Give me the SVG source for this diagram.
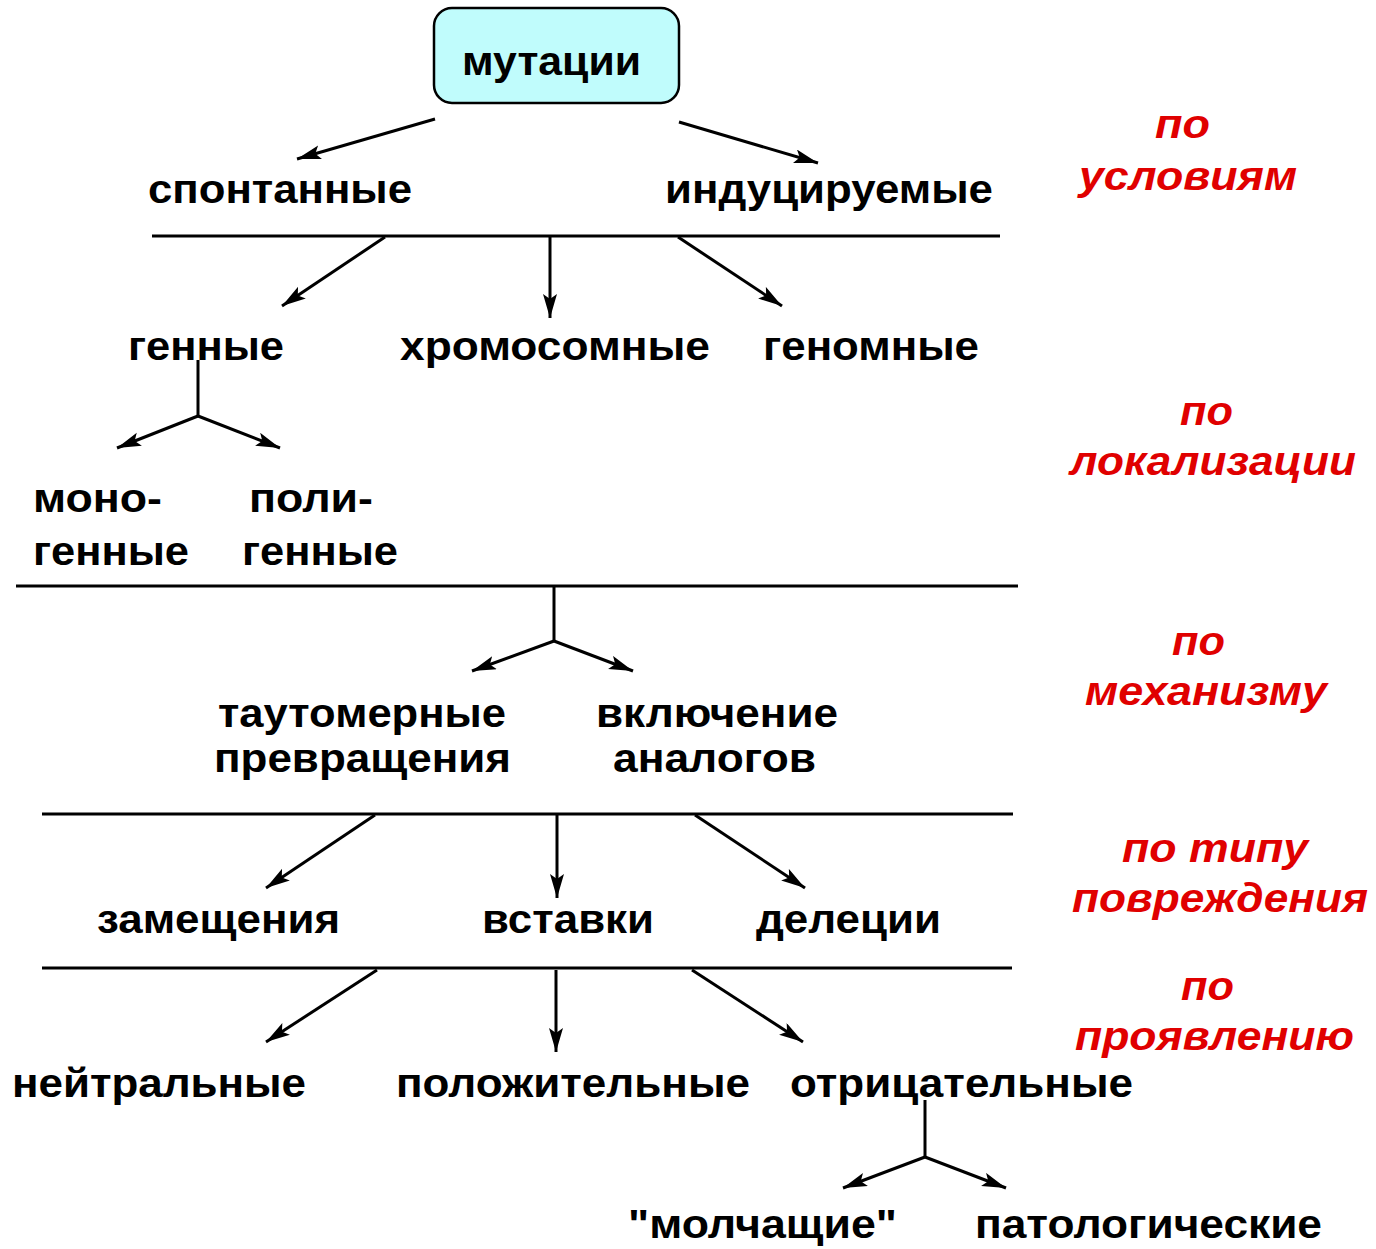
<svg xmlns="http://www.w3.org/2000/svg" width="1376" height="1249" viewBox="0 0 1376 1249">
<style>
.t{font-family:"Liberation Sans",Arial,sans-serif;font-weight:bold;font-size:41px;fill:#000}
.r{font-family:"Liberation Sans",Arial,sans-serif;font-weight:bold;font-style:italic;font-size:41px;fill:#e00000}
.c line,.c polyline{stroke:#000;stroke-width:3;fill:none}
.a{marker-end:url(#ah)}
</style>
<defs>
<marker id="ah" markerUnits="userSpaceOnUse" markerWidth="26" markerHeight="16" refX="24" refY="7" orient="auto">
<path d="M0,0 L24,7 L0,14 L5,7 Z" fill="#000"/>
</marker>
</defs>
<rect width="1376" height="1249" fill="#fff"/>
<g id="root">
<rect x="434" y="8" width="245" height="95" rx="18" fill="#c0fcfc" stroke="#000" stroke-width="2.5"/>
<text class="t" x="462" y="75" textLength="179" lengthAdjust="spacingAndGlyphs">мутации</text>
</g>
<g id="n-spont"><text class="t" x="148" y="203" textLength="264" lengthAdjust="spacingAndGlyphs">спонтанные</text></g>
<g id="n-indu"><text class="t" x="665" y="203" textLength="328" lengthAdjust="spacingAndGlyphs">индуцируемые</text></g>
<g id="n-gen"><text class="t" x="128" y="360" textLength="156" lengthAdjust="spacingAndGlyphs">генные</text></g>
<g id="n-chrom"><text class="t" x="400" y="360" textLength="310" lengthAdjust="spacingAndGlyphs">хромосомные</text></g>
<g id="n-genom"><text class="t" x="763" y="360" textLength="216" lengthAdjust="spacingAndGlyphs">геномные</text></g>
<g id="n-mono">
<text class="t" x="33" y="512" textLength="129" lengthAdjust="spacingAndGlyphs">моно-</text>
<text class="t" x="33" y="565" textLength="156" lengthAdjust="spacingAndGlyphs">генные</text>
</g>
<g id="n-poly">
<text class="t" x="249" y="512" textLength="124" lengthAdjust="spacingAndGlyphs">поли-</text>
<text class="t" x="242" y="565" textLength="156" lengthAdjust="spacingAndGlyphs">генные</text>
</g>
<g id="n-taut">
<text class="t" x="218" y="727" textLength="288" lengthAdjust="spacingAndGlyphs">таутомерные</text>
<text class="t" x="214" y="772" textLength="297" lengthAdjust="spacingAndGlyphs">превращения</text>
</g>
<g id="n-vkl">
<text class="t" x="596" y="727" textLength="242" lengthAdjust="spacingAndGlyphs">включение</text>
<text class="t" x="613" y="772" textLength="203" lengthAdjust="spacingAndGlyphs">аналогов</text>
</g>
<g id="n-zam"><text class="t" x="97" y="933" textLength="243" lengthAdjust="spacingAndGlyphs">замещения</text></g>
<g id="n-vst"><text class="t" x="482" y="933" textLength="172" lengthAdjust="spacingAndGlyphs">вставки</text></g>
<g id="n-del"><text class="t" x="756" y="933" textLength="185" lengthAdjust="spacingAndGlyphs">делеции</text></g>
<g id="n-neut"><text class="t" x="12" y="1097" textLength="294" lengthAdjust="spacingAndGlyphs">нейтральные</text></g>
<g id="n-pos"><text class="t" x="396" y="1097" textLength="354" lengthAdjust="spacingAndGlyphs">положительные</text></g>
<g id="n-neg"><text class="t" x="790" y="1097" textLength="343" lengthAdjust="spacingAndGlyphs">отрицательные</text></g>
<g id="n-silent"><text class="t" x="628" y="1238" textLength="269" lengthAdjust="spacingAndGlyphs">"молчащие"</text></g>
<g id="n-patho"><text class="t" x="975" y="1238" textLength="347" lengthAdjust="spacingAndGlyphs">патологические</text></g>
<g id="labels">
<text class="r" x="1155" y="138" textLength="55" lengthAdjust="spacingAndGlyphs">по</text>
<text class="r" x="1079" y="190" textLength="218" lengthAdjust="spacingAndGlyphs">условиям</text>
<text class="r" x="1180" y="425" textLength="53" lengthAdjust="spacingAndGlyphs">по</text>
<text class="r" x="1070" y="475" textLength="286" lengthAdjust="spacingAndGlyphs">локализации</text>
<text class="r" x="1172" y="655" textLength="53" lengthAdjust="spacingAndGlyphs">по</text>
<text class="r" x="1085" y="705" textLength="242" lengthAdjust="spacingAndGlyphs">механизму</text>
<text class="r" x="1122" y="862" textLength="186" lengthAdjust="spacingAndGlyphs">по типу</text>
<text class="r" x="1072" y="912" textLength="296" lengthAdjust="spacingAndGlyphs">повреждения</text>
<text class="r" x="1181" y="1000" textLength="53" lengthAdjust="spacingAndGlyphs">по</text>
<text class="r" x="1075" y="1050" textLength="279" lengthAdjust="spacingAndGlyphs">проявлению</text>
</g>
<g id="connectors" class="c">
<line x1="152" y1="236" x2="1000" y2="236"/>
<line x1="16" y1="586" x2="1018" y2="586"/>
<line x1="42" y1="814" x2="1013" y2="814"/>
<line x1="42" y1="968" x2="1012" y2="968"/>
<line class="a" x1="435" y1="119" x2="297" y2="159"/>
<line class="a" x1="679" y1="122" x2="818" y2="163"/>
<line class="a" x1="385" y1="237" x2="282" y2="306"/>
<line class="a" x1="550" y1="237" x2="550" y2="318"/>
<line class="a" x1="678" y1="237" x2="782" y2="306"/>
<line x1="198" y1="360" x2="198" y2="416"/>
<line class="a" x1="198" y1="416" x2="117" y2="448"/>
<line class="a" x1="198" y1="416" x2="280" y2="448"/>
<line x1="554" y1="586" x2="554" y2="641"/>
<line class="a" x1="554" y1="641" x2="472" y2="671"/>
<line class="a" x1="554" y1="641" x2="633" y2="671"/>
<line class="a" x1="375" y1="815" x2="266" y2="888"/>
<line class="a" x1="557" y1="815" x2="557" y2="898"/>
<line class="a" x1="695" y1="815" x2="805" y2="888"/>
<line class="a" x1="377" y1="970" x2="266" y2="1042"/>
<line class="a" x1="556" y1="970" x2="556" y2="1052"/>
<line class="a" x1="692" y1="970" x2="803" y2="1042"/>
<line x1="925" y1="1100" x2="925" y2="1157"/>
<line class="a" x1="925" y1="1157" x2="843" y2="1188"/>
<line class="a" x1="925" y1="1157" x2="1006" y2="1188"/>
</g>
</svg>
